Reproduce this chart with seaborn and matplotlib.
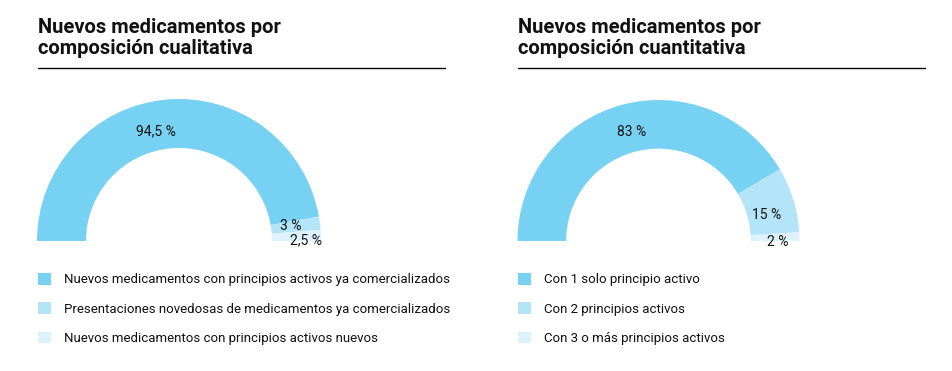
import numpy as np
import matplotlib
matplotlib.use("Agg")
import matplotlib.pyplot as plt
import seaborn as sns
from matplotlib.lines import Line2D
from matplotlib.patches import Patch

# ---- data ----
title_left = "Nuevos medicamentos por\ncomposición cualitativa"
title_right = "Nuevos medicamentos por\ncomposición cuantitativa"

cual_categories = [
    "Nuevos medicamentos con principios activos ya comercializados",
    "Presentaciones novedosas de medicamentos ya comercializados",
    "Nuevos medicamentos con principios activos nuevos",
]
cual_values = [94.5, 3.0, 2.5]
cual_labels = ["94,5 %", "3 %", "2,5 %"]

cuan_categories = [
    "Con 1 solo principio activo",
    "Con 2 principios activos",
    "Con 3 o más principios activos",
]
cuan_values = [83.0, 15.0, 2.0]
cuan_labels = ["83 %", "15 %", "2 %"]

# ---- style ----
sns.set_theme(style="white")
plt.rcParams["font.family"] = ["Roboto", "DejaVu Sans"]
palette = sns.color_palette(["#77D1F3", "#B3E4F7", "#DDF2FC"])
TXT = "#111111"

W, H = 952, 371
fig = plt.figure(figsize=(W / 100, H / 100), dpi=100)


def px_axes(cx, cy_top, r, pad_x=12, pad_top=12, pad_bot=22):
    """Axes positioned in pixels, so that one data unit = r pixels."""
    left = cx - r - pad_x
    right = cx + r + pad_x
    top = cy_top - r - pad_top
    bottom = cy_top + pad_bot
    ax = fig.add_axes([left / W, 1 - bottom / H, (right - left) / W, (bottom - top) / H])
    lims = ((-(r + pad_x) / r, (r + pad_x) / r), (-pad_bot / r, (r + pad_top) / r))
    return ax, lims


def half_donut(ax, lims, values, labels, label_r, offsets_px):
    total = sum(values)
    fracs = [v / total / 2 for v in values]
    ax.pie(fracs, colors=palette, startangle=180, counterclock=False,
           normalize=False, radius=1.0,
           wedgeprops=dict(width=1.0 - 93 / 142, linewidth=0))
    ax.set_xlim(*lims[0])
    ax.set_ylim(*lims[1])
    ax.set_aspect("equal")
    ax.axis("off")
    cum = np.cumsum(values)
    for v, c, lab, rr, (dx, dy) in zip(values, cum, labels, label_r, offsets_px):
        th = np.deg2rad(180 - (c - v / 2) / total * 180)
        ax.annotate(lab, (rr * np.cos(th), rr * np.sin(th)),
                    xytext=(dx * 0.72, -dy * 0.72), textcoords="offset points",
                    ha="center", va="center", fontsize=10, color=TXT)


def panel(x0, x1, title, cx, r, values, labels, cats, label_r, offsets_px):
    fig.text(x0 / W, 1 - 18 / H, title, ha="left", va="top", fontsize=14.5,
             fontweight="bold", color=TXT, linespacing=1.12)
    fig.add_artist(Line2D([x0 / W, x1 / W], [1 - 68 / H, 1 - 68 / H],
                          color="black", linewidth=1.0))
    ax, lims = px_axes(cx, 241, r)
    half_donut(ax, lims, values, labels, label_r, offsets_px)
    handles = [Patch(facecolor=palette[i], edgecolor="none") for i in range(len(cats))]
    fig.legend(handles, cats, loc="upper left",
               bbox_to_anchor=(x0 / W, 1 - 273 / H), frameon=False,
               fontsize=9.5, handlelength=1.0, handleheight=1.0,
               handletextpad=0.95, labelspacing=1.2, borderpad=0,
               borderaxespad=0, labelcolor=TXT)


panel(38, 445, title_left, 179, 142, cual_values, cual_labels, cual_categories,
      [0.80, 0.79, 0.88], [(-13, 3), (0, -1), (2, 4)])
panel(518, 925, title_right, 658.5, 141, cuan_values, cuan_labels, cuan_categories,
      [0.80, 0.79, 0.84], [(3, 0), (2, 7), (1, 5)])

fig.savefig("out.png", dpi=100)
